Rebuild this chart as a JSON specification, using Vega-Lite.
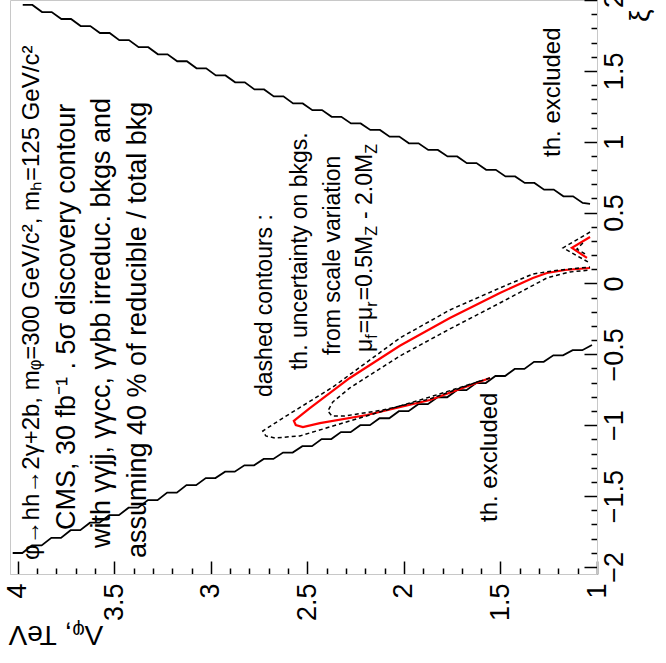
{
  "$schema": "https://vega.github.io/schema/vega-lite/v6.json",
  "width": 587,
  "height": 574,
  "autosize": "none",
  "padding": {"left": 10, "top": 0, "right": 69, "bottom": 89},
  "background": "white",
  "config": {"view": {"stroke": "#c8c8c8", "strokeWidth": 1}, "font": "Liberation Sans"},
  "datasets": {
    "bounds": [
      {"s": "up", "o": 1, "L": 3.974, "xi": 1.965}, {"s": "up", "o": 2, "L": 3.924, "xi": 1.965},
      {"s": "up", "o": 3, "L": 3.874, "xi": 1.915}, {"s": "up", "o": 4, "L": 3.824, "xi": 1.915},
      {"s": "up", "o": 5, "L": 3.774, "xi": 1.866}, {"s": "up", "o": 6, "L": 3.724, "xi": 1.866},
      {"s": "up", "o": 7, "L": 3.674, "xi": 1.816}, {"s": "up", "o": 8, "L": 3.624, "xi": 1.816},
      {"s": "up", "o": 9, "L": 3.574, "xi": 1.767}, {"s": "up", "o": 10, "L": 3.524, "xi": 1.767},
      {"s": "up", "o": 11, "L": 3.474, "xi": 1.717}, {"s": "up", "o": 12, "L": 3.424, "xi": 1.717},
      {"s": "up", "o": 13, "L": 3.374, "xi": 1.667}, {"s": "up", "o": 14, "L": 3.324, "xi": 1.667},
      {"s": "up", "o": 15, "L": 3.274, "xi": 1.617}, {"s": "up", "o": 16, "L": 3.224, "xi": 1.617},
      {"s": "up", "o": 17, "L": 3.174, "xi": 1.568}, {"s": "up", "o": 18, "L": 3.124, "xi": 1.568},
      {"s": "up", "o": 19, "L": 3.074, "xi": 1.518}, {"s": "up", "o": 20, "L": 3.024, "xi": 1.518},
      {"s": "up", "o": 21, "L": 2.974, "xi": 1.468}, {"s": "up", "o": 22, "L": 2.924, "xi": 1.468},
      {"s": "up", "o": 23, "L": 2.874, "xi": 1.419}, {"s": "up", "o": 24, "L": 2.824, "xi": 1.419},
      {"s": "up", "o": 25, "L": 2.774, "xi": 1.369}, {"s": "up", "o": 26, "L": 2.724, "xi": 1.369},
      {"s": "up", "o": 27, "L": 2.674, "xi": 1.32}, {"s": "up", "o": 28, "L": 2.624, "xi": 1.32},
      {"s": "up", "o": 29, "L": 2.574, "xi": 1.27}, {"s": "up", "o": 30, "L": 2.524, "xi": 1.27},
      {"s": "up", "o": 31, "L": 2.474, "xi": 1.223}, {"s": "up", "o": 32, "L": 2.424, "xi": 1.223},
      {"s": "up", "o": 33, "L": 2.374, "xi": 1.176}, {"s": "up", "o": 34, "L": 2.324, "xi": 1.176},
      {"s": "up", "o": 35, "L": 2.274, "xi": 1.129}, {"s": "up", "o": 36, "L": 2.224, "xi": 1.129},
      {"s": "up", "o": 37, "L": 2.174, "xi": 1.083}, {"s": "up", "o": 38, "L": 2.124, "xi": 1.083},
      {"s": "up", "o": 39, "L": 2.074, "xi": 1.036}, {"s": "up", "o": 40, "L": 2.024, "xi": 1.036},
      {"s": "up", "o": 41, "L": 1.974, "xi": 0.989}, {"s": "up", "o": 42, "L": 1.924, "xi": 0.989},
      {"s": "up", "o": 43, "L": 1.874, "xi": 0.942}, {"s": "up", "o": 44, "L": 1.824, "xi": 0.942},
      {"s": "up", "o": 45, "L": 1.774, "xi": 0.896}, {"s": "up", "o": 46, "L": 1.724, "xi": 0.896},
      {"s": "up", "o": 47, "L": 1.674, "xi": 0.849}, {"s": "up", "o": 48, "L": 1.624, "xi": 0.849},
      {"s": "up", "o": 49, "L": 1.574, "xi": 0.802}, {"s": "up", "o": 50, "L": 1.524, "xi": 0.802},
      {"s": "up", "o": 51, "L": 1.474, "xi": 0.755}, {"s": "up", "o": 52, "L": 1.424, "xi": 0.755},
      {"s": "up", "o": 53, "L": 1.374, "xi": 0.709}, {"s": "up", "o": 54, "L": 1.324, "xi": 0.709},
      {"s": "up", "o": 55, "L": 1.274, "xi": 0.662}, {"s": "up", "o": 56, "L": 1.224, "xi": 0.662},
      {"s": "up", "o": 57, "L": 1.174, "xi": 0.615}, {"s": "up", "o": 58, "L": 1.124, "xi": 0.615},
      {"s": "up", "o": 59, "L": 1.074, "xi": 0.568}, {"s": "up", "o": 60, "L": 1.036, "xi": 0.561},
      {"s": "low", "o": 1, "L": 4.026, "xi": -1.902}, {"s": "low", "o": 2, "L": 3.976, "xi": -1.902},
      {"s": "low", "o": 3, "L": 3.926, "xi": -1.848}, {"s": "low", "o": 4, "L": 3.876, "xi": -1.848},
      {"s": "low", "o": 5, "L": 3.826, "xi": -1.795}, {"s": "low", "o": 6, "L": 3.776, "xi": -1.795},
      {"s": "low", "o": 7, "L": 3.726, "xi": -1.741}, {"s": "low", "o": 8, "L": 3.676, "xi": -1.741},
      {"s": "low", "o": 9, "L": 3.626, "xi": -1.688}, {"s": "low", "o": 10, "L": 3.576, "xi": -1.688},
      {"s": "low", "o": 11, "L": 3.526, "xi": -1.635}, {"s": "low", "o": 12, "L": 3.476, "xi": -1.635},
      {"s": "low", "o": 13, "L": 3.426, "xi": -1.582}, {"s": "low", "o": 14, "L": 3.376, "xi": -1.582},
      {"s": "low", "o": 15, "L": 3.326, "xi": -1.529}, {"s": "low", "o": 16, "L": 3.276, "xi": -1.529},
      {"s": "low", "o": 17, "L": 3.226, "xi": -1.476}, {"s": "low", "o": 18, "L": 3.176, "xi": -1.476},
      {"s": "low", "o": 19, "L": 3.126, "xi": -1.423}, {"s": "low", "o": 20, "L": 3.076, "xi": -1.423},
      {"s": "low", "o": 21, "L": 3.026, "xi": -1.373}, {"s": "low", "o": 22, "L": 2.976, "xi": -1.373},
      {"s": "low", "o": 23, "L": 2.926, "xi": -1.328}, {"s": "low", "o": 24, "L": 2.876, "xi": -1.328},
      {"s": "low", "o": 25, "L": 2.826, "xi": -1.283}, {"s": "low", "o": 26, "L": 2.776, "xi": -1.283},
      {"s": "low", "o": 27, "L": 2.726, "xi": -1.238}, {"s": "low", "o": 28, "L": 2.676, "xi": -1.238},
      {"s": "low", "o": 29, "L": 2.626, "xi": -1.193}, {"s": "low", "o": 30, "L": 2.576, "xi": -1.193},
      {"s": "low", "o": 31, "L": 2.526, "xi": -1.148}, {"s": "low", "o": 32, "L": 2.476, "xi": -1.148},
      {"s": "low", "o": 33, "L": 2.426, "xi": -1.098}, {"s": "low", "o": 34, "L": 2.376, "xi": -1.098},
      {"s": "low", "o": 35, "L": 2.326, "xi": -1.049}, {"s": "low", "o": 36, "L": 2.276, "xi": -1.049},
      {"s": "low", "o": 37, "L": 2.226, "xi": -1.0}, {"s": "low", "o": 38, "L": 2.176, "xi": -1.0},
      {"s": "low", "o": 39, "L": 2.126, "xi": -0.951}, {"s": "low", "o": 40, "L": 2.076, "xi": -0.951},
      {"s": "low", "o": 41, "L": 2.026, "xi": -0.901}, {"s": "low", "o": 42, "L": 1.976, "xi": -0.901},
      {"s": "low", "o": 43, "L": 1.926, "xi": -0.852}, {"s": "low", "o": 44, "L": 1.876, "xi": -0.852},
      {"s": "low", "o": 45, "L": 1.826, "xi": -0.803}, {"s": "low", "o": 46, "L": 1.776, "xi": -0.803},
      {"s": "low", "o": 47, "L": 1.726, "xi": -0.753}, {"s": "low", "o": 48, "L": 1.676, "xi": -0.753},
      {"s": "low", "o": 49, "L": 1.626, "xi": -0.703}, {"s": "low", "o": 50, "L": 1.576, "xi": -0.703},
      {"s": "low", "o": 51, "L": 1.526, "xi": -0.653}, {"s": "low", "o": 52, "L": 1.476, "xi": -0.653},
      {"s": "low", "o": 53, "L": 1.426, "xi": -0.603}, {"s": "low", "o": 54, "L": 1.376, "xi": -0.603},
      {"s": "low", "o": 55, "L": 1.326, "xi": -0.553}, {"s": "low", "o": 56, "L": 1.276, "xi": -0.553},
      {"s": "low", "o": 57, "L": 1.226, "xi": -0.507}, {"s": "low", "o": 58, "L": 1.176, "xi": -0.507},
      {"s": "low", "o": 59, "L": 1.126, "xi": -0.471}, {"s": "low", "o": 60, "L": 1.076, "xi": -0.471},
      {"s": "low", "o": 61, "L": 1.026, "xi": -0.434}
    ],
    "red": [
      {"s": "main", "o": 1, "L": 1.554, "xi": -0.667},
      {"s": "main", "o": 2, "L": 1.865, "xi": -0.822},
      {"s": "main", "o": 3, "L": 2.192, "xi": -0.928},
      {"s": "main", "o": 4, "L": 2.435, "xi": -0.985},
      {"s": "main", "o": 5, "L": 2.523, "xi": -1.013},
      {"s": "main", "o": 6, "L": 2.56, "xi": -0.999},
      {"s": "main", "o": 7, "L": 2.57, "xi": -0.97},
      {"s": "main", "o": 8, "L": 2.487, "xi": -0.879},
      {"s": "main", "o": 9, "L": 2.28, "xi": -0.667},
      {"s": "main", "o": 10, "L": 2.021, "xi": -0.44},
      {"s": "main", "o": 11, "L": 1.762, "xi": -0.244},
      {"s": "main", "o": 12, "L": 1.503, "xi": -0.067},
      {"s": "main", "o": 13, "L": 1.332, "xi": 0.039},
      {"s": "main", "o": 14, "L": 1.259, "xi": 0.074},
      {"s": "main", "o": 15, "L": 1.166, "xi": 0.095},
      {"s": "main", "o": 16, "L": 1.036, "xi": 0.109},
      {"s": "v", "o": 1, "L": 1.036, "xi": 0.328},
      {"s": "v", "o": 2, "L": 1.13, "xi": 0.251},
      {"s": "v", "o": 3, "L": 1.052, "xi": 0.18}
    ],
    "dash": [
      {"s": "outer", "o": 1, "L": 1.554, "xi": -0.667},
      {"s": "outer", "o": 2, "L": 1.865, "xi": -0.801},
      {"s": "outer", "o": 3, "L": 2.28, "xi": -0.97},
      {"s": "outer", "o": 4, "L": 2.539, "xi": -1.076},
      {"s": "outer", "o": 5, "L": 2.668, "xi": -1.09},
      {"s": "outer", "o": 6, "L": 2.715, "xi": -1.076},
      {"s": "outer", "o": 7, "L": 2.731, "xi": -1.041},
      {"s": "outer", "o": 8, "L": 2.627, "xi": -0.95},
      {"s": "outer", "o": 9, "L": 2.368, "xi": -0.731},
      {"s": "outer", "o": 10, "L": 2.021, "xi": -0.385},
      {"s": "outer", "o": 11, "L": 1.762, "xi": -0.187},
      {"s": "outer", "o": 12, "L": 1.503, "xi": -0.032},
      {"s": "outer", "o": 13, "L": 1.332, "xi": 0.067},
      {"s": "outer", "o": 14, "L": 1.192, "xi": 0.095},
      {"s": "outer", "o": 15, "L": 1.036, "xi": 0.116},
      {"s": "inner", "o": 1, "L": 1.606, "xi": -0.688},
      {"s": "inner", "o": 2, "L": 1.865, "xi": -0.815},
      {"s": "inner", "o": 3, "L": 2.109, "xi": -0.893},
      {"s": "inner", "o": 4, "L": 2.306, "xi": -0.935},
      {"s": "inner", "o": 5, "L": 2.373, "xi": -0.935},
      {"s": "inner", "o": 6, "L": 2.394, "xi": -0.9},
      {"s": "inner", "o": 7, "L": 2.368, "xi": -0.836},
      {"s": "inner", "o": 8, "L": 2.28, "xi": -0.737},
      {"s": "inner", "o": 9, "L": 2.021, "xi": -0.512},
      {"s": "inner", "o": 10, "L": 1.762, "xi": -0.321},
      {"s": "inner", "o": 11, "L": 1.503, "xi": -0.138},
      {"s": "inner", "o": 12, "L": 1.259, "xi": 0.039},
      {"s": "inner", "o": 13, "L": 1.14, "xi": 0.081},
      {"s": "inner", "o": 14, "L": 1.036, "xi": 0.095},
      {"s": "vout", "o": 1, "L": 1.036, "xi": 0.363},
      {"s": "vout", "o": 2, "L": 1.176, "xi": 0.251},
      {"s": "vout", "o": 3, "L": 1.047, "xi": 0.152},
      {"s": "vin", "o": 1, "L": 1.073, "xi": 0.286},
      {"s": "vin", "o": 2, "L": 1.104, "xi": 0.243},
      {"s": "vin", "o": 3, "L": 1.062, "xi": 0.208}
    ],
    "head": [
      {"t": "φ→hh→2γ+2b, mᵩ=300 GeV/c², mₕ=125 GeV/c²", "L": 3.927, "xi": -1.951}
    ],
    "cols": [
      {"t": "CMS, 30 fb⁻¹ . 5σ discovery contour", "L": 3.746, "xi": -1.74},
      {"t": "with γγjj, γγcc, γγbb irreduc. bkgs and", "L": 3.565, "xi": -1.867},
      {"t": "assuming 40 % of reducible / total bkg", "L": 3.378, "xi": -1.937}
    ],
    "notes": [
      {"t": "dashed contours :", "L": 2.72, "xi": -0.801},
      {"t": "th. uncertainty on bkgs.", "L": 2.539, "xi": -0.611},
      {"t": "from scale variation", "L": 2.368, "xi": -0.505},
      {"t": "μ", "L": 2.202, "xi": -0.483},
      {"t": "=μ", "L": 2.202, "xi": -0.352},
      {"t": "=0.5M", "L": 2.202, "xi": -0.119},
      {"t": "- 2.0M", "L": 2.202, "xi": 0.455}
    ],
    "subs": [
      {"t": "f", "L": 2.202, "xi": -0.39},
      {"t": "r", "L": 2.202, "xi": -0.164},
      {"t": "Z", "L": 2.202, "xi": 0.337},
      {"t": "Z", "L": 2.202, "xi": 0.915}
    ],
    "excl": [
      {"t": "th. excluded", "L": 1.554, "xi": -1.683},
      {"t": "th. excluded", "L": 1.228, "xi": 0.893}
    ]
  },
  "encoding": {
    "x": {
      "field": "L", "type": "quantitative",
      "scale": {"domain": [1, 4.04], "reverse": true, "nice": false, "zero": false},
      "axis": {
        "orient": "bottom",
        "values": [1.0, 1.1, 1.2, 1.3, 1.4, 1.5, 1.6, 1.7, 1.8, 1.9, 2.0, 2.1, 2.2, 2.3, 2.4, 2.5, 2.6, 2.7, 2.8, 2.9, 3.0, 3.1, 3.2, 3.3, 3.4, 3.5, 3.6, 3.7, 3.8, 3.9, 4.0],
        "labelExpr": "abs(datum.value*2-round(datum.value*2))<0.01 ? format(datum.value,'~g') : ''",
        "labelAngle": 270, "labelAlign": "right", "labelBaseline": "middle",
        "labelPadding": 22, "labelFont": "Liberation Sans", "labelFontSize": 27, "labelColor": "black",
        "labelOverlap": false, "labelFlush": false, "labelBound": false,
        "tickSize": {"condition": {"test": "abs(datum.value*2-round(datum.value*2))<0.01", "value": -13}, "value": -6},
        "tickColor": "black", "tickWidth": 1.5,
        "domainColor": "#c8c8c8", "domainWidth": 1, "grid": false,
        "title": "Λᵩ, TeV", "titleAngle": 180, "titleFont": "Liberation Sans", "titleFontSize": 28,
        "titleFontWeight": "normal", "titleColor": "black", "titleAlign": "right", "titleBaseline": "middle",
        "titleX": -2, "titleY": 59
      }
    },
    "y": {
      "field": "xi", "type": "quantitative",
      "scale": {"domain": [-2.05, 2.0], "nice": false, "zero": false},
      "axis": {
        "orient": "right",
        "values": [-2.0, -1.9, -1.8, -1.7, -1.6, -1.5, -1.4, -1.3, -1.2, -1.1, -1.0, -0.9, -0.8, -0.7, -0.6, -0.5, -0.4, -0.3, -0.2, -0.1, 0.0, 0.1, 0.2, 0.3, 0.4, 0.5, 0.6, 0.7, 0.8, 0.9, 1.0, 1.1, 1.2, 1.3, 1.4, 1.5, 1.6, 1.7, 1.8, 1.9, 2.0],
        "labelExpr": "abs(datum.value*2-round(datum.value*2))<0.01 ? format(datum.value,'~g') : ''",
        "labelAngle": 270, "labelAlign": "center", "labelBaseline": "top",
        "labelPadding": 17, "labelFont": "Liberation Sans", "labelFontSize": 27, "labelColor": "black",
        "labelOverlap": false, "labelFlush": false, "labelBound": false,
        "tickSize": {"condition": {"test": "abs(datum.value*2-round(datum.value*2))<0.01", "value": -13}, "value": -6},
        "tickColor": "black", "tickWidth": 1.5,
        "domainColor": "#c8c8c8", "domainWidth": 1, "grid": false,
        "title": "ξ", "titleAngle": 270, "titleFont": "Liberation Sans", "titleFontSize": 28,
        "titleFontWeight": "normal", "titleColor": "black", "titleAlign": "right", "titleBaseline": "middle",
        "titleX": 43, "titleY": 9
      }
    }
  },
  "layer": [
    {
      "data": {"name": "bounds"},
      "mark": {"type": "line", "color": "black", "strokeWidth": 1.8},
      "encoding": {"detail": {"field": "s"}, "order": {"field": "o"}}
    },
    {
      "data": {"name": "red"},
      "mark": {"type": "line", "color": "#ff0000", "strokeWidth": 2.2},
      "encoding": {"detail": {"field": "s"}, "order": {"field": "o"}}
    },
    {
      "data": {"name": "dash"},
      "mark": {"type": "line", "color": "black", "strokeWidth": 1.5, "strokeDash": [4, 3]},
      "encoding": {"detail": {"field": "s"}, "order": {"field": "o"}}
    },
    {
      "data": {"name": "head"},
      "mark": {"type": "text", "angle": 270, "align": "left", "baseline": "middle", "font": "Liberation Sans", "fontSize": 24, "color": "black"},
      "encoding": {"text": {"field": "t"}}
    },
    {
      "data": {"name": "cols"},
      "mark": {"type": "text", "angle": 270, "align": "left", "baseline": "middle", "font": "Liberation Sans", "fontSize": 27, "color": "black"},
      "encoding": {"text": {"field": "t"}}
    },
    {
      "data": {"name": "notes"},
      "mark": {"type": "text", "angle": 270, "align": "left", "baseline": "middle", "font": "Liberation Sans", "fontSize": 23, "color": "black"},
      "encoding": {"text": {"field": "t"}}
    },
    {
      "data": {"name": "subs"},
      "mark": {"type": "text", "angle": 270, "align": "left", "baseline": "middle", "font": "Liberation Sans", "fontSize": 16, "dy": 7, "color": "black"},
      "encoding": {"text": {"field": "t"}}
    },
    {
      "data": {"name": "excl"},
      "mark": {"type": "text", "angle": 270, "align": "left", "baseline": "middle", "font": "Liberation Sans", "fontSize": 24, "color": "black"},
      "encoding": {"text": {"field": "t"}}
    }
  ]
}
